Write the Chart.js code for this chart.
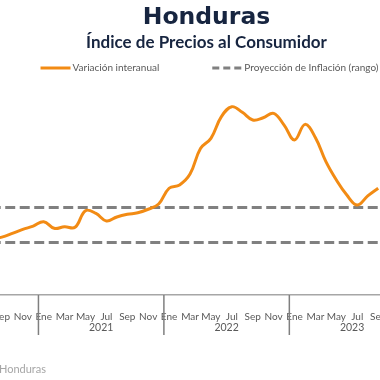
<!DOCTYPE html>
<html><head><meta charset="utf-8">
<script src="https://cdn.jsdelivr.net/npm/chart.js@4.4.1/dist/chart.umd.min.js"></script>
<style>
html,body{margin:0;padding:0;background:#fff;overflow:hidden;width:380px;height:380px;}
#marco{position:absolute;left:-130px;top:0;width:673px;height:380px;}
</style></head><body>
<div id="marco"><canvas id="grafico"></canvas></div>
<script>
const anios = [2020, 2021, 2022, 2023, 2024];
const meses = ['Ene','Feb','Mar','Abr','May','Jun','Jul','Ago','Sep','Oct','Nov','Dic'];
const inflacion2020 = [null, null, null, null, null, null, null, 3.20, 3.31, 3.52, 3.75, 3.94];
const inflacion2021 = [4.19, 3.81, 3.90, 3.87, 4.82, 4.66, 4.23, 4.46, 4.61, 4.70, 4.90, 5.20];
const inflacion2022 = [6.10, 6.29, 6.91, 8.37, 8.95, 10.19, 10.76, 10.44, 10.00, 10.13, 10.38, 9.71];
const inflacion2023 = [8.86, 9.75, 8.99, 7.62, 6.57, 5.71, 5.14, 5.66, 6.10];
const rangoMeta = [3, 5];
const fuente = 'Fuente: Banco Central de Honduras';

const categorias = anios.flatMap(a => meses.map(m => m + ' ' + a));
const serie = [...inflacion2020, ...inflacion2021, ...inflacion2022, ...inflacion2023];
const primera = categorias[0], ultima = categorias[categorias.length - 1];

const gris = '#595959';
const decorado = {
  id: 'decorado',
  afterDraw(chart) {
    const {ctx, chartArea, scales: {x}} = chart;
    const paso = x.getPixelForValue(1) - x.getPixelForValue(0);
    const base = chartArea.bottom;
    ctx.save();
    // separadores y etiquetas de año
    ctx.strokeStyle = '#7f7f7f';
    ctx.lineWidth = 1.5;
    ctx.fillStyle = gris;
    ctx.font = '10.5px Lato';
    ctx.textAlign = 'center';
    ctx.textBaseline = 'middle';
    anios.forEach((a, j) => {
      const x0 = x.getPixelForValue(j * 12) - paso / 2;
      ctx.beginPath(); ctx.moveTo(x0, base); ctx.lineTo(x0, base + 40); ctx.stroke();
      ctx.fillText(String(a), x0 + paso * 6, base + 33);
    });
    const xf = x.getPixelForValue(categorias.length - 1) + paso / 2;
    ctx.beginPath(); ctx.moveTo(xf, base); ctx.lineTo(xf, base + 40); ctx.stroke();
    // fuente
    ctx.fillStyle = '#a6a6a6';
    ctx.font = '11px Lato';
    ctx.textAlign = 'right';
    ctx.fillText(fuente, 176, 369);
    // leyenda
    const items = [];
    chart.data.datasets.forEach(d => { if (!items.find(i => i.label === d.label)) items.push(d); });
    ctx.font = '10px Lato';
    const muestra = 30, hueco = 2, sep = 53;
    let total = 0;
    items.forEach((d, k) => { total += muestra + hueco + ctx.measureText(d.label).width + (k ? sep : 0); });
    let cx = chart.width / 2 + 3 - total / 2;
    const ly = 68;
    items.forEach((d, k) => {
      if (k) cx += sep;
      ctx.strokeStyle = d.borderColor;
      ctx.lineWidth = 3;
      ctx.setLineDash(d.borderDash ? [7, 4] : []);
      ctx.beginPath(); ctx.moveTo(cx, ly); ctx.lineTo(cx + muestra, ly); ctx.stroke();
      ctx.setLineDash([]);
      cx += muestra + hueco;
      ctx.fillStyle = gris;
      ctx.textAlign = 'left';
      ctx.fillText(d.label, cx, ly);
      cx += ctx.measureText(d.label).width;
    });
    ctx.restore();
  }
};

new Chart(document.getElementById('grafico'), {
  type: 'line',
  data: {
    labels: categorias,
    datasets: [
      {label: 'Variación interanual', data: serie, borderColor: '#F28B14', borderWidth: 3,
       pointRadius: 0, tension: 0.4, order: 0},
      {label: 'Proyección de Inflación (rango)', data: [{x: primera, y: rangoMeta[1]}, {x: ultima, y: rangoMeta[1]}],
       borderColor: '#808080', borderWidth: 3, borderDash: [10, 4.5], pointRadius: 0, order: 1},
      {label: 'Proyección de Inflación (rango)', data: [{x: primera, y: rangoMeta[0]}, {x: ultima, y: rangoMeta[0]}],
       borderColor: '#808080', borderWidth: 3, borderDash: [10, 4.5], pointRadius: 0, order: 1}
    ]
  },
  options: {
    animation: false, responsive: true, maintainAspectRatio: false,
    layout: {padding: 0},
    plugins: {
      legend: {display: false},
      tooltip: {enabled: false},
      title: {display: true, text: 'Honduras', color: '#172540',
        font: {family: 'DejaVu Sans', size: 23.5, weight: 'bold'}, padding: {top: 4, bottom: 0}},
      subtitle: {display: true, text: 'Índice de Precios al Consumidor', color: '#172540',
        font: {family: 'Lato', size: 17, weight: 'bold'}, padding: {top: 0.6, bottom: 31.8}}
    },
    scales: {
      x: {offset: true, grid: {display: false},
        border: {display: true, color: '#a6a6a6', width: 1.5},
        ticks: {autoSkip: false, maxRotation: 0, padding: 8, color: gris,
          font: {family: 'Lato', size: 10},
          callback: (v, i) => i % 2 === 0 ? meses[i % 12] : ''},
        afterFit: s => { s.height = 85; }},
      y: {min: 0, max: 12, grid: {display: false}, border: {display: false},
        ticks: {display: false}, afterFit: s => { s.width = 43; }}
    }
  },
  plugins: [decorado]
});
</script>
</body></html>
